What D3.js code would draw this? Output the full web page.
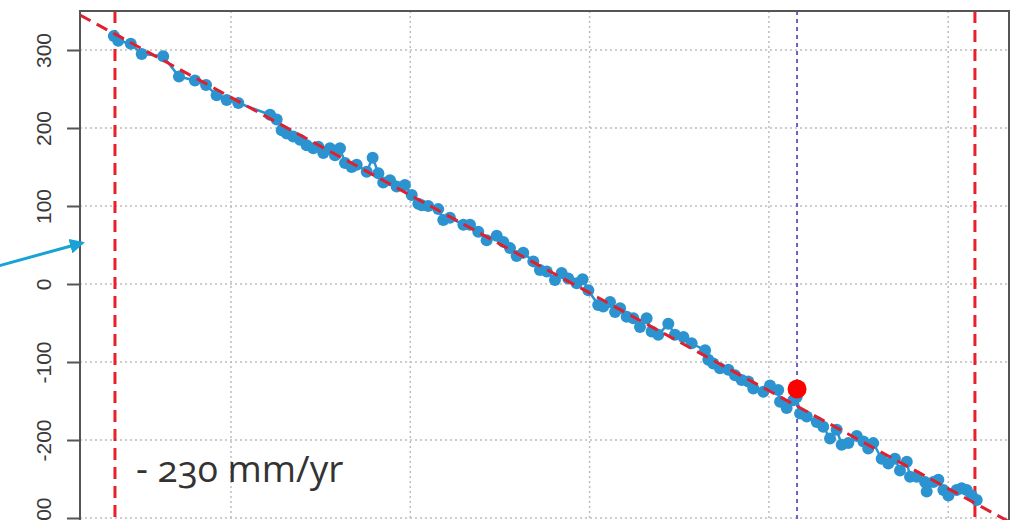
<!DOCTYPE html>
<html>
<head>
<meta charset="utf-8">
<script src="https://cdn.jsdelivr.net/npm/d3@7"></script>
<style>
  body { margin: 0; background: #fff; }
  svg { display: block; }
</style>
</head>
<body>
<script>
// decimal year of each acquisition
var times = [2014.347, 2014.371, 2014.441, 2014.502, 2014.622, 2014.710, 2014.799, 2014.861, 2014.920, 2014.976,
  2015.041, 2015.218, 2015.255, 2015.283, 2015.311, 2015.347, 2015.385, 2015.422, 2015.459, 2015.487,
  2015.515, 2015.552, 2015.580, 2015.608, 2015.636, 2015.673, 2015.701, 2015.757, 2015.790, 2015.822,
  2015.849, 2015.887, 2015.924, 2015.970, 2016.008, 2016.045, 2016.064, 2016.100, 2016.156, 2016.184,
  2016.221, 2016.296, 2016.333, 2016.379, 2016.426, 2016.482, 2016.519, 2016.556, 2016.593, 2016.630,
  2016.686, 2016.723, 2016.761, 2016.807, 2016.844, 2016.881, 2016.928, 2016.961, 2016.993, 2017.048,
  2017.076, 2017.114, 2017.142, 2017.170, 2017.207, 2017.244, 2017.281, 2017.318, 2017.346, 2017.383,
  2017.439, 2017.476, 2017.523, 2017.569, 2017.644, 2017.662, 2017.690, 2017.727, 2017.774, 2017.811,
  2017.848, 2017.885, 2017.913, 2017.969, 2018.006, 2018.052, 2018.062, 2018.099, 2018.136, 2018.155,
  2018.174, 2018.211, 2018.267, 2018.303, 2018.341, 2018.378, 2018.406, 2018.443, 2018.490, 2018.527,
  2018.554, 2018.582, 2018.629, 2018.666, 2018.703, 2018.731, 2018.769, 2018.787, 2018.824, 2018.871,
  2018.880, 2018.917, 2018.945, 2018.973, 2019.001, 2019.047, 2019.075, 2019.103, 2019.131, 2019.159];

// displacement (mm)
var displacement = [318, 312, 308, 295, 292, 266, 261, 255, 242, 236,
  232, 217, 211, 197, 193, 189, 185, 178, 174, 176,
  168, 174, 165, 174, 155, 150, 153, 144, 162, 142,
  130, 133, 125, 127, 114, 103, 101, 100, 96, 82,
  85, 76, 76, 67, 56, 62, 54, 46, 36, 40,
  29, 18, 16, 5, 14, 7, 1, 6, -8, -27,
  -29, -23, -36, -31, -42, -44, -55, -44, -61, -65,
  -51, -65, -68, -76, -85, -97, -102, -108, -110, -117,
  -123, -125, -134, -138, -130, -136, -151, -159, -149, -145,
  -166, -170, -177, -183, -198, -187, -206, -204, -195, -202,
  -211, -204, -224, -230, -224, -239, -228, -247, -247, -254,
  -266, -254, -251, -264, -271, -264, -262, -264, -271, -277];

// linear trend end points
var trendTimes = [2014.158, 2019.339];
var trendValues = [344.9, -304.8];

// highlighted acquisition
var eventTime = [2018.157];
var eventValue = [-134.6];

// start / end of the fitted window
var windowTimes = [2014.353, 2019.149];

var yTicks = [300, 200, 100, 0, -100, -200, -300];
var xGrid = [2015, 2016, 2017, 2018, 2019];

var width = 1017, height = 520;
var plotLeft = 80, plotRight = 1009, plotTop = 11, plotBottom = 540;

var x = d3.scaleLinear().domain([2014.158, 2019.339]).range([plotLeft, plotRight]);
var y = d3.scaleLinear().domain([350, -328.2]).range([plotTop, plotBottom]);

var svg = d3.select("body").append("svg")
  .attr("width", width)
  .attr("height", height);

var defs = svg.append("defs");
defs.append("clipPath")
  .attr("id", "plotclip")
  .append("rect")
  .attr("x", plotLeft).attr("y", plotTop)
  .attr("width", plotRight - plotLeft).attr("height", plotBottom - plotTop);

// grid
svg.append("g").selectAll("line")
  .data(yTicks)
  .enter().append("line")
  .attr("x1", plotLeft).attr("x2", plotRight)
  .attr("y1", function(d) { return y(d); })
  .attr("y2", function(d) { return y(d); })
  .attr("stroke", "#bdbdbd")
  .attr("stroke-width", 1.5)
  .attr("stroke-dasharray", "2,3");

svg.append("g").selectAll("line")
  .data(xGrid)
  .enter().append("line")
  .attr("x1", function(d) { return x(d); })
  .attr("x2", function(d) { return x(d); })
  .attr("y1", plotTop).attr("y2", plotBottom)
  .attr("stroke", "#bdbdbd")
  .attr("stroke-width", 1.5)
  .attr("stroke-dasharray", "2,3");

var plot = svg.append("g").attr("clip-path", "url(#plotclip)");

// window limits
plot.selectAll(".win")
  .data(windowTimes)
  .enter().append("line")
  .attr("class", "win")
  .attr("x1", function(d) { return x(d); })
  .attr("x2", function(d) { return x(d); })
  .attr("y1", plotTop).attr("y2", plotBottom)
  .attr("stroke", "#e8202a")
  .attr("stroke-width", 3)
  .attr("stroke-dasharray", "12,7");

// event marker line
plot.selectAll(".ev")
  .data(eventTime)
  .enter().append("line")
  .attr("class", "ev")
  .attr("x1", function(d) { return x(d); })
  .attr("x2", function(d) { return x(d); })
  .attr("y1", plotTop).attr("y2", plotBottom)
  .attr("stroke", "#6a5fc8")
  .attr("stroke-width", 2)
  .attr("stroke-dasharray", "4,4");

// series
var pts = times.map(function(t, i) { return [t, displacement[i]]; });

plot.append("path")
  .datum(pts)
  .attr("fill", "none")
  .attr("stroke", "#2c93d1")
  .attr("stroke-width", 2.5)
  .attr("d", d3.line()
    .x(function(d) { return x(d[0]); })
    .y(function(d) { return y(d[1]); }));

plot.selectAll(".pt")
  .data(pts)
  .enter().append("circle")
  .attr("class", "pt")
  .attr("cx", function(d) { return x(d[0]); })
  .attr("cy", function(d) { return y(d[1]); })
  .attr("r", 6)
  .attr("fill", "#2c93d1");

// trend
var trend = trendTimes.map(function(t, i) { return [t, trendValues[i]]; });
plot.append("path")
  .datum(trend)
  .attr("fill", "none")
  .attr("stroke", "#e0202c")
  .attr("stroke-width", 3)
  .attr("stroke-dasharray", "12,7")
  .attr("d", d3.line()
    .x(function(d) { return x(d[0]); })
    .y(function(d) { return y(d[1]); }));

plot.selectAll(".event")
  .data(eventTime)
  .enter().append("circle")
  .attr("class", "event")
  .attr("cx", function(d) { return x(d); })
  .attr("cy", function(d, i) { return y(eventValue[i]); })
  .attr("r", 9.5)
  .attr("fill", "#ff0000");

// box (top, right) and left axis
svg.append("path")
  .attr("d", "M" + plotLeft + "," + plotBottom + "V" + plotTop + "H" + plotRight + "V" + plotBottom)
  .attr("fill", "none")
  .attr("stroke", "#555")
  .attr("stroke-width", 2);

var yAxis = d3.axisLeft(y).tickValues(yTicks).tickSize(13).tickPadding(0)
  .tickFormat(function(d) { return String(d); });
var ga = svg.append("g")
  .attr("transform", "translate(" + plotLeft + ",0)")
  .call(yAxis);
ga.select(".domain").remove();
ga.selectAll(".tick line").attr("stroke", "#555").attr("stroke-width", 2);
ga.selectAll(".tick text")
  .attr("transform", "rotate(-90)")
  .attr("x", 0)
  .attr("dy", 0)
  .attr("y", -29)
  .attr("text-anchor", "middle")
  .attr("fill", "#3a3a3a")
  .attr("font-size", 21)
  .style("font-family", "'Liberation Sans', Arial, sans-serif")
  .style("font-size", "21px");

// annotation
defs.append("marker")
  .attr("id", "arrowhead")
  .attr("viewBox", "0 0 10 10")
  .attr("refX", 8).attr("refY", 5)
  .attr("markerWidth", 5).attr("markerHeight", 5)
  .attr("orient", "auto")
  .append("path")
  .attr("d", "M0,0L10,5L0,10z")
  .attr("fill", "#17a3d6");

svg.append("line")
  .attr("x1", -2).attr("y1", 266)
  .attr("x2", 82).attr("y2", 243)
  .attr("stroke", "#17a3d6")
  .attr("stroke-width", 3)
  .attr("marker-end", "url(#arrowhead)");

svg.append("text")
  .attr("x", 136).attr("y", 482)
  .attr("fill", "#333")
  .style("font-family", "'Open Sans', sans-serif")
  .style("font-size", "37px")
  .style("font-variant-numeric", "oldstyle-nums")
  .text("- 230 mm/yr");
</script>
</body>
</html>
